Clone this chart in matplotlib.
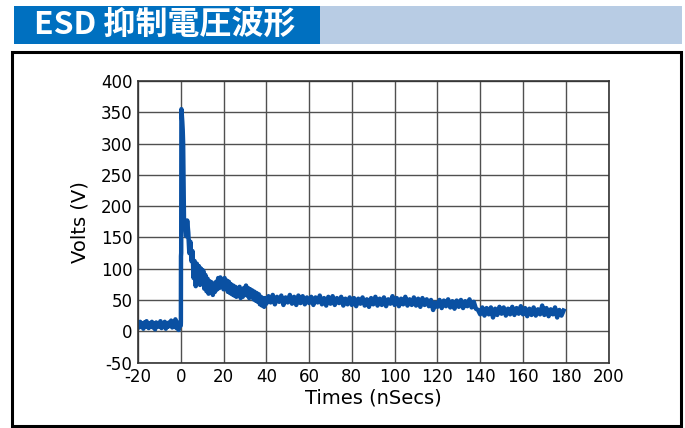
import numpy as np
import matplotlib
matplotlib.use("Agg")
import matplotlib.pyplot as plt
from matplotlib.patches import Rectangle

plt.rcParams['font.family'] = ['DejaVu Sans']
plt.rcParams['axes.unicode_minus'] = False

# pre-trigger baseline, sampled every 0.5 ns from -20 to 0
pre_t = np.arange(-20, 0.01, 0.5)
pre_v = [13, 6, 15, 8, 12, 4, 14, 7, 16, 9,
         5, 13, 8, 15, 6, 12, 3, 14, 8, 13,
         7, 16, 5, 12, 9, 15, 4, 13, 7, 14,
         9, 17, 6, 13, 8, 19, 5, 14, 2, 12,
         9]

# ESD spike
spike_t = [0.05, 0.1, 0.2, 0.3, 0.5, 0.7, 0.9, 1.1, 1.3, 1.5, 1.7]
spike_v = [15, 120, 125, 355, 345, 335, 322, 300, 230, 178, 165]

# decay, every 0.5 ns from 2 to 39.5
decay_t = np.arange(2, 39.6, 0.5)
decay_v = [172, 152, 177, 158, 125, 143, 112, 128,
           85, 112, 72, 108, 80, 104, 74, 100, 78, 97,
           68, 90, 64, 84, 60, 80, 62, 78, 58, 75,
           63, 79, 67, 85, 69, 86, 71, 83, 67, 85,
           69, 81, 63, 79, 61, 75, 59, 73, 57, 71,
           55, 69, 57, 71, 53, 67, 55, 69, 59, 73,
           57, 69, 53, 67, 55, 65, 51, 63, 49, 61,
           47, 59, 43, 55, 41, 53, 39, 53]

# clamped tail, every 1 ns from 40 to 179
tail_t = np.arange(40, 180, 1)
tail_v = [44, 56, 46, 58, 43, 55, 47, 57, 42, 54,
          46, 58, 44, 55, 42, 57, 45, 56, 43, 54,
          45, 55, 42, 54, 46, 57, 43, 53, 41, 55,
          44, 56, 42, 53, 45, 55, 41, 52, 43, 54,
          42, 53, 40, 52, 44, 54, 41, 51, 39, 53,
          43, 55, 41, 52, 42, 54, 40, 51, 44, 56,
          42, 53, 40, 52, 43, 55, 41, 51, 42, 54,
          41, 52, 39, 53, 42, 51, 40, 50, 34, 46,
          39, 50, 37, 49, 40, 51, 38, 48, 36, 49,
          39, 50, 37, 48, 40, 51, 38, 47, 36, 34,
          27, 38, 25, 37, 27, 38, 22, 36, 26, 39,
          28, 38, 25, 36, 27, 39, 26, 37, 28, 40,
          27, 37, 24, 36, 26, 38, 25, 35, 27, 41,
          26, 37, 24, 35, 27, 38, 22, 34, 25, 33]

x_ticks = [-20, 0, 20, 40, 60, 80, 100, 120, 140, 160, 180, 200]
y_ticks = [-50, 0, 50, 100, 150, 200, 250, 300, 350, 400]

times = np.concatenate([pre_t, spike_t, decay_t, tail_t])
volts = np.concatenate([pre_v, spike_v, decay_v, tail_v])

fig = plt.figure(figsize=(6.85, 4.28), dpi=100)

# title banner
fig.patches.append(Rectangle((14 / 685, 1 - 44 / 428), 306 / 685, 38 / 428,
                             transform=fig.transFigure, facecolor='#0070C0',
                             edgecolor='none'))
fig.patches.append(Rectangle((320 / 685, 1 - 44 / 428), 362 / 685, 38 / 428,
                             transform=fig.transFigure, facecolor='#B8CCE4',
                             edgecolor='none'))
fig.text(34 / 685, 1 - 25 / 428, 'ESD 抑制電圧波形', color='white',
         fontsize=23, fontweight='bold', va='center', ha='left',
         family=['Noto Sans CJK JP', 'DejaVu Sans'])

# black frame around the chart
fig.patches.append(Rectangle((12 / 685, 1 - 426 / 428), 669 / 685, 374 / 428,
                             transform=fig.transFigure, facecolor='none',
                             edgecolor='black', linewidth=2.2))

ax = fig.add_axes([138 / 685, 1 - 362.5 / 428, 470.5 / 685, 281.5 / 428])
ax.plot(times, volts, color='#0A50A2', linewidth=3.2, solid_joinstyle='round')

ax.set_xlim(-20, 200)
ax.set_ylim(-50, 400)
ax.set_xticks(x_ticks)
ax.set_yticks(y_ticks)
ax.tick_params(length=0, labelsize=12, pad=4)
ax.grid(True, color='#505050', linewidth=1.0)
ax.set_axisbelow(True)
for s in ax.spines.values():
    s.set_color('#333333')
    s.set_linewidth(1.2)

ax.set_xlabel('Times (nSecs)', fontsize=14, labelpad=2)
ax.set_ylabel('Volts (V)', fontsize=14, labelpad=8)

plt.savefig('out.png', dpi=100)
